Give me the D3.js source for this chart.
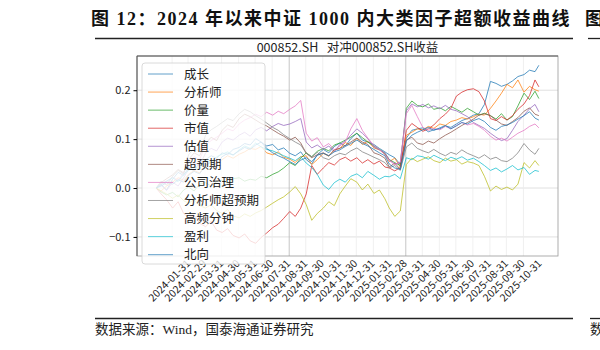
<!DOCTYPE html>
<html>
<head>
<meta charset="utf-8">
<script src="https://cdn.jsdelivr.net/npm/d3@7"></script>
<style>
  body { margin: 0; background: #fff; }
  svg { display: block; }
</style>
</head>
<body>
<div id="chart"></div>
<script>
// 采样日期（约每10天一个点）
const dates = [
  "2024-01-02","2024-01-11","2024-01-21","2024-02-01","2024-02-11","2024-02-21",
  "2024-03-01","2024-03-11","2024-03-21","2024-04-01","2024-04-11","2024-04-21",
  "2024-05-01","2024-05-11","2024-05-21","2024-06-01","2024-06-11","2024-06-21",
  "2024-07-01","2024-07-11","2024-07-21","2024-08-01","2024-08-11","2024-08-21",
  "2024-09-01","2024-09-11","2024-09-21","2024-10-01","2024-10-11","2024-10-21",
  "2024-11-01","2024-11-11","2024-11-21","2024-12-01","2024-12-11","2024-12-21",
  "2025-01-01","2025-01-11","2025-01-21","2025-02-01","2025-02-11","2025-02-21",
  "2025-03-01","2025-03-11","2025-03-21","2025-04-01","2025-04-11","2025-04-21",
  "2025-05-01","2025-05-11","2025-05-21","2025-06-01","2025-06-11","2025-06-21",
  "2025-07-01","2025-07-11","2025-07-21","2025-08-01","2025-08-11","2025-08-21",
  "2025-09-01","2025-09-11","2025-09-21","2025-10-01","2025-10-11","2025-10-21",
  "2025-11-01","2025-11-11","2025-11-21","2025-11-28"
];

const tickLabels = [
  "2024-01-31","2024-02-29","2024-03-31","2024-04-30","2024-05-31","2024-06-30",
  "2024-07-31","2024-08-31","2024-09-30","2024-10-31","2024-11-30","2024-12-31",
  "2025-01-31","2025-02-28","2025-03-31","2025-04-30","2025-05-31","2025-06-30",
  "2025-07-31","2025-08-31","2025-09-30","2025-10-31"
];

const yTicks = [-0.1, 0.0, 0.1, 0.2];

const seriesNames = ["成长","分析师","价量","市值","估值","超预期","公司治理","分析师超预期","高频分钟","盈利","北向"];

const chengZhang = [0,0.008,-0.004, 0.018,0.032,0.026, 0.041,0.035,0.052, 0.058,0.066,0.061, 0.072,0.068,0.079, 0.083,0.091,0.088,
  0.101,0.094,0.086, 0.089,0.078,0.082, 0.071,0.066,0.074, 0.058,0.049,0.068, 0.079,0.072,0.085, 0.092,0.086,0.101,
  0.112,0.098,0.094, 0.089,0.081,0.074, 0.068,0.062,0.048, 0.102,0.118,0.121, 0.123,0.115,0.119, 0.121,0.127,0.124,
  0.131,0.138,0.142, 0.149,0.152,0.171, 0.218,0.214,0.208, 0.212,0.219,0.228, 0.232,0.241,0.238, 0.251];

const fenXiShi = [0,-0.006,0.004, 0.012,0.021,0.016, 0.028,0.036,0.031, 0.047,0.054,0.049, 0.058,0.066,0.061, 0.069,0.074,0.081,
  0.079,0.085,0.072, 0.068,0.074,0.063, 0.059,0.052,0.064, 0.066,0.048,0.058, 0.071,0.065,0.078, 0.081,0.093,0.087,
  0.102,0.089,0.096, 0.082,0.078,0.069, 0.054,0.061,0.043, 0.108,0.114,0.121, 0.119,0.126,0.122, 0.131,0.128,0.136,
  0.139,0.144,0.141, 0.146,0.151,0.149, 0.163,0.178,0.194, 0.212,0.205,0.221, 0.196,0.208,0.201, 0.198];

const jiaLiang = [0,-0.008,-0.014, -0.009,-0.018,-0.004, 0.002,-0.006,0.008, 0.011,0.004,0.013, 0.016,0.009,0.019, 0.021,0.014,0.018,
  0.016,0.024,0.021, 0.028,0.033,0.041, 0.052,0.046,0.061, 0.072,0.064,0.075, 0.081,0.076,0.088, 0.092,0.098,0.104,
  0.112,0.103,0.094, 0.086,0.079,0.071, 0.058,0.052,0.046, 0.163,0.178,0.169, 0.166,0.172,0.161, 0.164,0.158,0.167,
  0.161,0.155,0.163, 0.156,0.149,0.153, 0.148,0.141,0.152, 0.139,0.146,0.168, 0.194,0.181,0.198, 0.183];

const shiZhi = [0,-0.012,-0.024, -0.041,-0.028,-0.052, -0.061,-0.055,-0.072, -0.079,-0.068,-0.086, -0.091,-0.083,-0.097, -0.102,-0.094,-0.108,
  -0.113,-0.101,-0.092, -0.081,-0.074,-0.062, -0.048,-0.058,-0.041, -0.012,0.046,0.028, 0.041,0.052,0.047, 0.058,0.063,0.055,
  0.062,0.051,0.058, 0.049,0.055,0.043, 0.041,0.035,0.042, 0.118,0.132,0.124, 0.116,0.121,0.129, 0.142,0.151,0.163,
  0.188,0.196,0.201, 0.203,0.197,0.178, 0.142,0.138,0.146, 0.139,0.148,0.161, 0.172,0.189,0.221, 0.207];

const guZhi = [0,0.006,-0.005, 0.012,0.004,0.021, 0.038,0.051,0.046, 0.072,0.081,0.076, 0.094,0.102,0.098, 0.108,0.114,0.106,
  0.119,0.124,0.117, 0.126,0.132,0.128, 0.131,0.136,0.142, 0.094,0.082,0.088, 0.079,0.086,0.074, 0.089,0.096,0.108,
  0.121,0.112,0.101, 0.084,0.078,0.072, 0.058,0.049,0.052, 0.158,0.172,0.166, 0.171,0.164,0.168, 0.162,0.169,0.161,
  0.158,0.152,0.146, 0.134,0.128,0.122, 0.112,0.104,0.097, 0.101,0.118,0.136, 0.149,0.162,0.171, 0.156];

const chaoYuQi = [0,0.011,0.019, 0.027,0.038,0.031, 0.058,0.072,0.066, 0.091,0.104,0.097, 0.118,0.129,0.124, 0.142,0.151,0.146,
  0.139,0.132,0.127, 0.119,0.112,0.106, 0.098,0.104,0.092, 0.071,0.062,0.068, 0.072,0.066,0.078, 0.081,0.087,0.094,
  0.102,0.094,0.089, 0.072,0.068,0.061, 0.043,0.051,0.038, 0.098,0.104,0.092, 0.089,0.096,0.092, 0.101,0.108,0.114,
  0.121,0.128,0.134, 0.141,0.149,0.152, 0.148,0.139,0.131, 0.128,0.136,0.144, 0.157,0.164,0.151, 0.148];

const gongSiZhiLi = [0,0.009,0.014, 0.022,0.016,0.031, 0.052,0.064,0.058, 0.088,0.097,0.104, 0.112,0.121,0.117, 0.131,0.139,0.144,
  0.151,0.146,0.155, 0.149,0.157,0.152, 0.161,0.168,0.179, 0.112,0.096,0.103, 0.084,0.091,0.078, 0.086,0.094,0.121,
  0.142,0.118,0.102, 0.087,0.079,0.068, 0.056,0.048,0.053, 0.152,0.169,0.146, 0.124,0.118,0.122, 0.119,0.126,0.121,
  0.128,0.134,0.129, 0.132,0.126,0.118, 0.106,0.098,0.102, 0.096,0.104,0.112, 0.118,0.126,0.131, 0.123];

const fenXiShiChaoYuQi = [0,0.014,0.006, 0.024,0.036,0.029, 0.068,0.081,0.074, 0.108,0.119,0.126, 0.134,0.142,0.138, 0.152,0.161,0.156,
  0.148,0.141,0.133, 0.124,0.118,0.109, 0.101,0.094,0.088, 0.071,0.064,0.073, 0.062,0.058,0.066, 0.071,0.068,0.076,
  0.082,0.074,0.069, 0.063,0.058,0.052, 0.041,0.046,0.036, 0.084,0.092,0.081, 0.076,0.072,0.079, 0.071,0.066,0.073,
  0.069,0.078,0.071, 0.066,0.061,0.068, 0.059,0.063,0.056, 0.054,0.061,0.072, 0.091,0.078,0.069, 0.081];

const gaoPinFenZhong = [0,-0.006,-0.012, -0.021,-0.014,-0.026, -0.031,-0.024,-0.036, -0.041,-0.034,-0.046, -0.052,-0.044,-0.057, -0.061,-0.053,-0.058,
  -0.051,-0.046,-0.039, -0.031,-0.024,-0.018, -0.008,0.003,-0.012, -0.034,-0.066,-0.052, -0.041,-0.028,-0.036, -0.012,0.004,0.019,
  0.012,-0.004,0.008, -0.011,-0.004,-0.022, -0.041,-0.058,-0.047, 0.048,0.061,0.054, 0.059,0.064,0.056, 0.052,0.061,0.055,
  0.058,0.049,0.054, 0.051,0.046,0.024, -0.006,0.004,-0.003, 0.002,-0.004,0.008, 0.052,0.041,0.056, 0.046];

const yingLi = [0,0.007,0.014, 0.021,0.013,0.028, 0.036,0.044,0.039, 0.058,0.052,0.064, 0.069,0.074,0.067, 0.078,0.086,0.081,
  0.092,0.084,0.079, 0.076,0.071,0.066, 0.061,0.056,0.064, 0.051,0.042,0.028, 0.006,-0.003,0.011, 0.018,0.012,0.024,
  0.029,0.021,0.034, 0.026,0.018,0.024, 0.023,0.028,0.019, 0.062,0.058,0.066, 0.064,0.059,0.067, 0.061,0.056,0.063,
  0.059,0.064,0.057, 0.061,0.054,0.046, 0.036,0.041,0.033, 0.039,0.046,0.037, 0.042,0.028,0.036, 0.034];

const beiXiang = [0,0.004,0.011, 0.008,0.017,0.012, 0.026,0.034,0.029, 0.046,0.053,0.049, 0.064,0.071,0.068, 0.076,0.083,0.079,
  0.088,0.094,0.081, 0.072,0.066,0.061, 0.054,0.048,0.057, 0.062,0.054,0.067, 0.071,0.066,0.074, 0.078,0.085,0.091,
  0.098,0.091,0.086, 0.079,0.072,0.066, 0.049,0.041,0.038, 0.096,0.108,0.114, 0.119,0.124,0.118, 0.123,0.128,0.121,
  0.127,0.134,0.131, 0.138,0.142,0.136, 0.124,0.118,0.126, 0.129,0.134,0.141, 0.148,0.156,0.143, 0.139];

const seriesValues = [chengZhang, fenXiShi, jiaLiang, shiZhi, guZhi, chaoYuQi, gongSiZhiLi,
  fenXiShiChaoYuQi, gaoPinFenZhong, yingLi, beiXiang];

const ancho = 600, alto = 350;
const marginLeft = 137, marginRight = 42, marginTop = 56, marginBottom = 94;

const parse = d3.timeParse("%Y-%m-%d");
const fechas = dates.map(parse);

const series = seriesNames.map((name, i) => ({
  name: name,
  values: fechas.map((f, j) => ({ date: f, v: seriesValues[i][j] }))
}));

// margen de 5% como matplotlib
const t0 = fechas[0], t1 = fechas[fechas.length - 1];
const pad = (t1 - t0) * 0.05;
const xScale = d3.scaleTime()
  .domain([new Date(+t0 - pad), new Date(+t1 + pad)])
  .range([marginLeft, ancho - marginRight]);

const yScale = d3.scaleLinear()
  .domain([-0.139, 0.27])
  .range([alto - marginBottom, marginTop]);

const color = d3.scaleOrdinal().domain(d3.range(10)).range(d3.schemeCategory10);

const svg = d3.select("#chart").append("svg")
  .attr("width", ancho)
  .attr("height", alto)
  .style("font-family", "'Noto Sans CJK SC', sans-serif");

svg.append("rect").attr("width", ancho).attr("height", alto).attr("fill", "#fff");

// encabezado
svg.append("text")
  .attr("x", 91).attr("y", 25)
  .style("font-family", "'Liberation Serif', 'Noto Sans CJK SC', serif")
  .style("font-weight", "bold")
  .style("font-size", "18px")
  .style("letter-spacing", "1.5px")
  .style("white-space", "pre")
  .attr("fill", "#111")
  .text("图 12：2024 年以来中证 1000 内大类因子超额收益曲线");

svg.append("text")
  .attr("x", 585).attr("y", 25)
  .style("font-weight", "bold").style("font-size", "18px").attr("fill", "#111")
  .text("图");

svg.append("line").attr("x1", 95).attr("x2", 573).attr("y1", 38.5).attr("y2", 38.5)
  .attr("stroke", "#222").attr("stroke-width", 1.3);
svg.append("line").attr("x1", 588).attr("x2", 600).attr("y1", 38.5).attr("y2", 38.5)
  .attr("stroke", "#222").attr("stroke-width", 1.3);

// título del gráfico
svg.append("text")
  .attr("x", (marginLeft + ancho - marginRight) / 2).attr("y", 52)
  .attr("text-anchor", "middle")
  .style("font-size", "12.5px").style("white-space", "pre").attr("fill", "#222")
  .text("000852.SH   对冲000852.SH收益");

const plot = svg.append("g");

// grilla
plot.selectAll(".gy").data(yTicks).enter().append("line")
  .attr("x1", marginLeft).attr("x2", ancho - marginRight)
  .attr("y1", d => yScale(d)).attr("y2", d => yScale(d))
  .attr("stroke", "#d8d8d8").attr("stroke-width", 0.8);

plot.selectAll(".gx").data(tickLabels).enter().append("line")
  .attr("x1", d => xScale(parse(d))).attr("x2", d => xScale(parse(d)))
  .attr("y1", marginTop).attr("y2", alto - marginBottom)
  .attr("stroke", d => (d === "2024-08-31" || d === "2025-03-31") ? "#b8b8b8" : "#ececec")
  .attr("stroke-width", 0.8);

// líneas
const line = d3.line().x(d => xScale(d.date)).y(d => yScale(d.v));
plot.selectAll(".serie").data(series).enter().append("path")
  .attr("d", d => line(d.values))
  .attr("fill", "none")
  .attr("stroke", (d, i) => color(i % 10))
  .attr("stroke-width", 0.9)
  .attr("stroke-opacity", 0.85);

// marco
svg.append("rect")
  .attr("x", marginLeft).attr("y", marginTop)
  .attr("width", ancho - marginLeft - marginRight)
  .attr("height", alto - marginTop - marginBottom)
  .attr("fill", "none").attr("stroke", "#999").attr("stroke-width", 0.8);
svg.append("line")
  .attr("x1", marginLeft).attr("x2", ancho - marginRight)
  .attr("y1", marginTop).attr("y2", marginTop)
  .attr("stroke", "#555").attr("stroke-width", 1);
svg.append("line")
  .attr("x1", marginLeft).attr("x2", marginLeft)
  .attr("y1", marginTop).attr("y2", alto - marginBottom)
  .attr("stroke", "#555").attr("stroke-width", 1);

// eje y
const yAxis = d3.axisLeft(yScale).tickValues(yTicks).tickFormat(d3.format(".1f")).tickSize(3.5).tickPadding(3);
svg.append("g")
  .attr("transform", "translate(" + marginLeft + ",0)")
  .call(yAxis)
  .call(g => g.select(".domain").remove())
  .selectAll("text")
  .style("font-size", "11px").style("font-family", "'Noto Sans CJK SC', sans-serif")
  .attr("fill", "#222");

// eje x (etiquetas rotadas)
svg.append("g").selectAll("text").data(tickLabels).enter().append("text")
  .attr("transform", d => "translate(" + (xScale(parse(d)) + 19) + "," + (alto - marginBottom + 8) + ") rotate(-45)")
  .attr("text-anchor", "end")
  .style("font-size", "10.5px").attr("fill", "#222")
  .text(d => d);

// leyenda
const leg = svg.append("g");
leg.append("rect")
  .attr("x", 142).attr("y", 63).attr("width", 123).attr("height", 201)
  .attr("rx", 3).attr("fill", "#fff").attr("fill-opacity", 0.8)
  .attr("stroke", "#d0d0d0").attr("stroke-width", 0.8);

const items = leg.selectAll(".item").data(seriesNames).enter().append("g")
  .attr("transform", (d, i) => "translate(0," + (74 + i * 18.07) + ")");
items.append("line")
  .attr("x1", 148).attr("x2", 173)
  .attr("stroke", (d, i) => color(i % 10)).attr("stroke-width", 1).attr("stroke-opacity", 0.7);
items.append("text")
  .attr("x", 184).attr("dy", "0.36em")
  .style("font-size", "12.5px").attr("fill", "#222")
  .text(d => d);

// pie
svg.append("line").attr("x1", 95).attr("x2", 573).attr("y1", 318.5).attr("y2", 318.5)
  .attr("stroke", "#222").attr("stroke-width", 1.3);
svg.append("line").attr("x1", 590).attr("x2", 600).attr("y1", 318.5).attr("y2", 318.5)
  .attr("stroke", "#222").attr("stroke-width", 1.3);
svg.append("text")
  .attr("x", 95).attr("y", 334)
  .style("font-family", "'Liberation Serif', 'Noto Sans CJK SC', serif")
  .style("font-size", "13.5px").attr("fill", "#222")
  .text("数据来源：Wind，国泰海通证券研究");
svg.append("text")
  .attr("x", 590).attr("y", 334)
  .style("font-size", "13.5px").attr("fill", "#222")
  .text("数");
</script>
</body>
</html>
